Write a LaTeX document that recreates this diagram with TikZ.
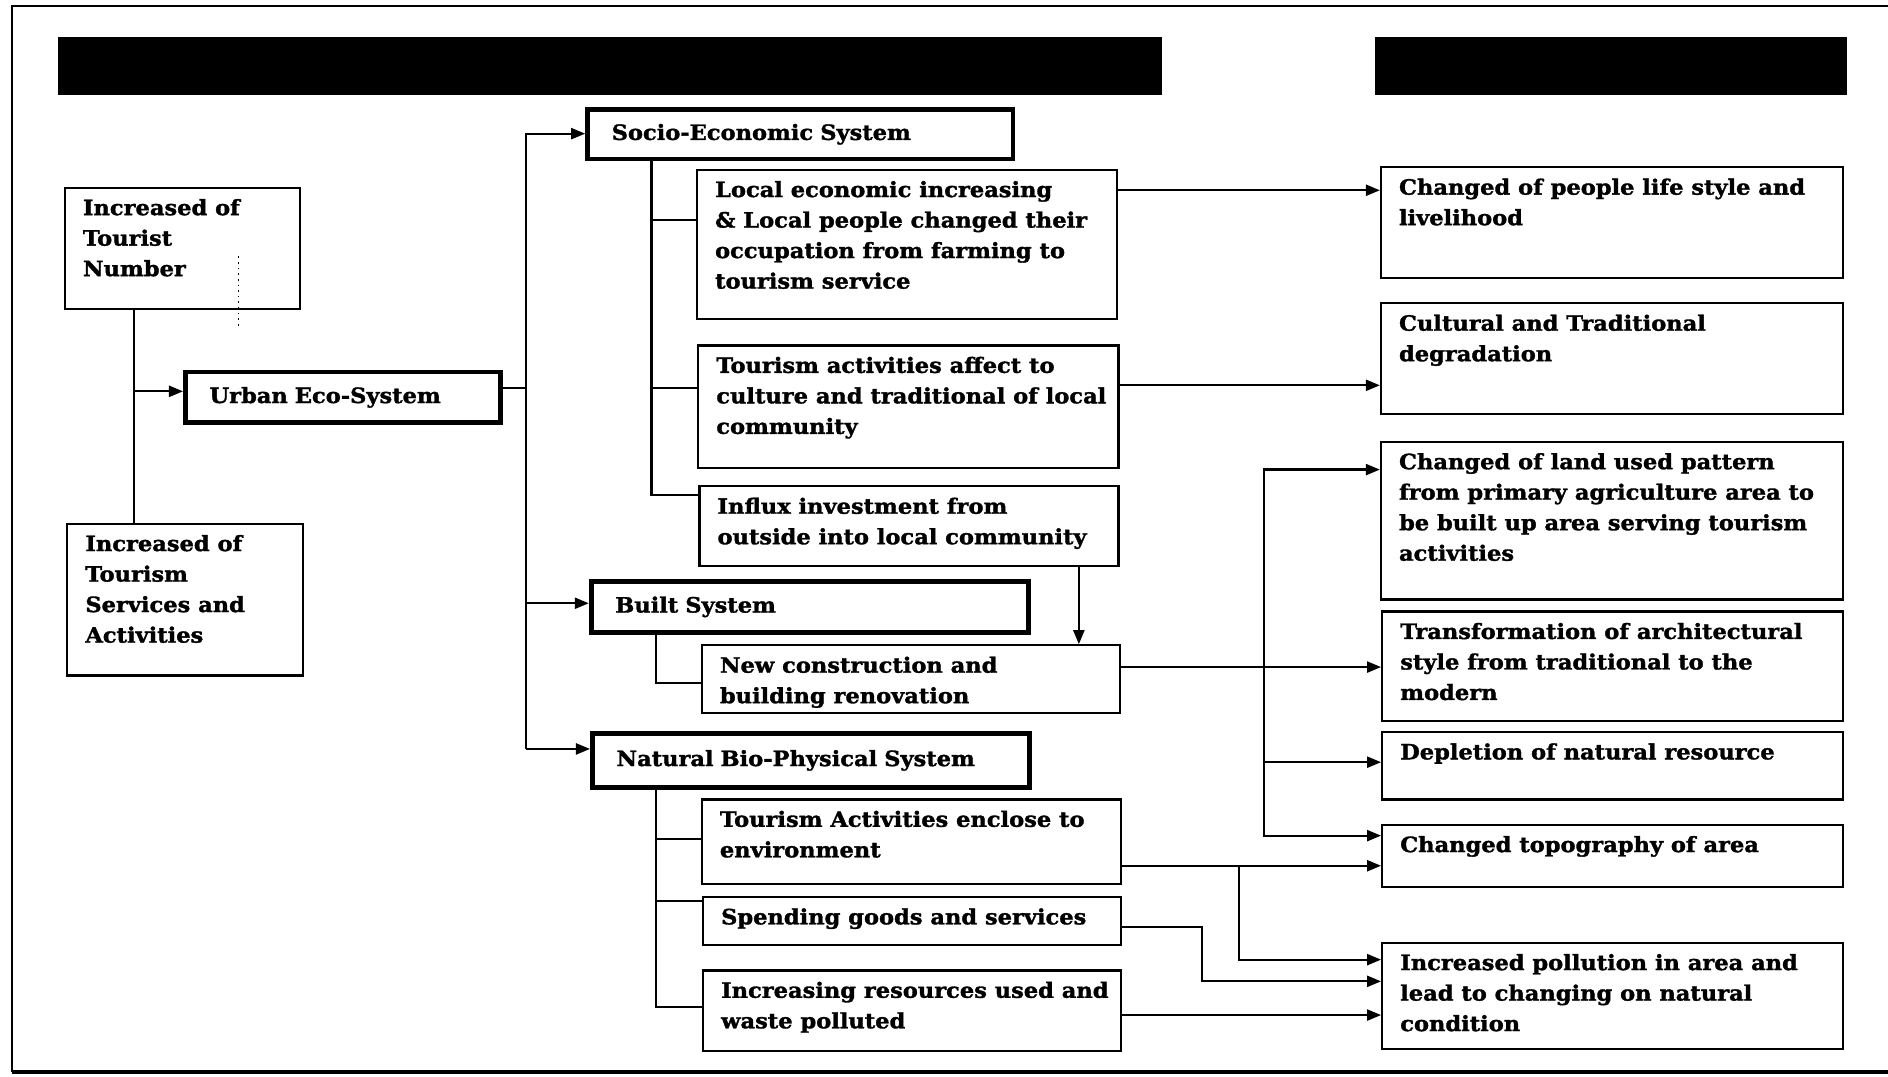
\documentclass[tikz,border=0pt]{standalone}
\usepackage{fontspec}
\setmainfont{DejaVu Serif}[BoldFeatures={FakeStretch=1.07, FakeBold=1.5}]
\usetikzlibrary{arrows.meta, positioning}

% text set at the top of a box of given outer size (pt)
\newcommand{\boxlines}[3]{\hspace*{9pt}\parbox[c][\dimexpr#2pt-6pt\relax][t]{\dimexpr#1pt-12pt\relax}{\begin{tabular}[t]{@{}l@{}}#3\end{tabular}}\hspace*{3pt}}

\begin{document}
\begin{tikzpicture}[x=0.6pt, y=-0.6pt, line width=1.1pt, >={Triangle[length=7pt,width=5.5pt]},
  every node/.style={font=\bfseries\fontsize{10.5}{15.2}\selectfont},
  txtbox/.style={draw, line width=1.1pt, anchor=north west, inner xsep=0pt, inner ysep=3pt},
  sysbox/.style={draw, line width=2.4pt, anchor=north west, inner xsep=12pt, inner ysep=0pt, align=left}]
\useasboundingbox (0,0) rectangle (1568,894);
\draw[line width=1.2pt] (1568,5) -- (10,5) -- (10,890);
\draw[line width=2pt] (10,890) -- (1568,890);
\fill (48,31) rectangle (965,79);
\fill (1142,31) rectangle (1534,79);

% causes
\node[txtbox] (TN) at (53,155) {\boxlines{117}{60.6}{Increased of\\Tourist\\Number}};
\node[txtbox] (TS) at (55,434) {\boxlines{117.6}{75.6}{Increased of\\Tourism\\Services and\\Activities}};
\node[sysbox, text width=133pt, minimum height=25.2pt] (UE) at (152,307) {Urban Eco-System};

% systems
\node[sysbox, text width=188pt, minimum height=24.6pt] (SE) at (486,89) {Socio-Economic System};
\node[sysbox, text width=194pt, minimum height=25.2pt] (BS) at (489,481) {Built System};
\node[sysbox, text width=194pt, minimum height=27pt] (NB) at (490,607) {Natural Bio-Physical System};

\node[txtbox] (L1) at (578,140) {\boxlines{209.4}{74.4}{Local economic increasing\\\& Local people changed their\\occupation from farming to\\tourism service}};
\node[txtbox] (L2) at (579,286) {\boxlines{209.4}{61.2}{Tourism activities affect to\\culture and traditional of local\\community}};
\node[txtbox] (L3) at (580,403) {\boxlines{208.8}{39.6}{Influx investment from\\outside into local community}};
\node[txtbox] (B1) at (582,535) {\boxlines{208.2}{33.6}{New construction and\\building renovation}};
\node[txtbox] (N1) at (582,663) {\boxlines{208.8}{42}{Tourism Activities enclose to\\environment}};
\node[txtbox] (N2) at (583,744) {\boxlines{208.2}{24}{Spending goods and services}};
\node[txtbox] (N3) at (583,805) {\boxlines{208.2}{40.2}{Increasing resources used and\\waste polluted}};

% impacts
\node[txtbox] (R1) at (1146,138) {\boxlines{230.4}{55.2}{Changed of people life style and\\livelihood}};
\node[txtbox] (R2) at (1146,251) {\boxlines{230.4}{55.2}{Cultural and Traditional\\degradation}};
\node[txtbox] (R3) at (1146,366) {\boxlines{230.4}{78.6}{Changed of land used pattern\\from primary agriculture area to\\be built up area serving tourism\\activities}};
\node[txtbox] (R4) at (1147,507) {\boxlines{229.8}{54.6}{Transformation of architectural\\style from traditional to the\\modern}};
\node[txtbox] (R5) at (1147,607) {\boxlines{229.8}{33.6}{Depletion of natural resource}};
\node[txtbox] (R6) at (1147,684) {\boxlines{229.8}{31.2}{Changed topography of area}};
\node[txtbox] (R7) at (1147,782) {\boxlines{229.8}{52.8}{Increased pollution in area and\\lead to changing on natural\\condition}};

% left side
\draw (TN.south -| 111,0) -- (TS.north -| 111,0);
\draw[->] (111,325) -- (UE.west |- 0,325);
\draw[dotted, line width=0.8pt] (198,213) -- (198,272);
\draw (UE.east |- 0,322) -- (437,322);
\draw[->] (437,622) |- (SE.west |- 0,111);
\draw[->] (437,501) -- (BS.west |- 0,501);
\draw[->] (437,622) -- (NB.west |- 0,622);

% system branches
\draw (SE.south -| 541,0) |- (L3.west |- 0,411);
\draw (541,183) -- (L1.west |- 0,183);
\draw (541,322) -- (L2.west |- 0,322);
\draw (BS.south -| 545,0) |- (B1.west |- 0,567);
\draw (NB.south -| 545,0) |- (N3.west |- 0,836);
\draw (545,697) -- (N1.west |- 0,697);
\draw (545,748) -- (N2.west |- 0,748);
\draw[->] (L3.south -| 896,0) -- (B1.north -| 896,0);

% to impacts
\draw[->] (L1.east |- 0,158) -- (R1.west |- 0,158);
\draw[->] (L2.east |- 0,320) -- (R2.west |- 0,320);
\draw[->] (B1.east |- 0,554) -- (R4.west |- 0,554);
\draw[<->] (R3.west |- 0,390) -| (1050,694) -- (R6.west |- 0,694);
\draw[->] (1050,633) -- (R5.west |- 0,633);
\draw[->] (N1.east |- 0,719) -- (R6.west |- 0,719);
\draw[->] (1029,719) |- (R7.west |- 0,797);
\draw[->] (N2.east |- 0,770) -| (998,815) -- (R7.west |- 0,815);
\draw[->] (N3.east |- 0,843) -- (R7.west |- 0,843);
\end{tikzpicture}
\end{document}
